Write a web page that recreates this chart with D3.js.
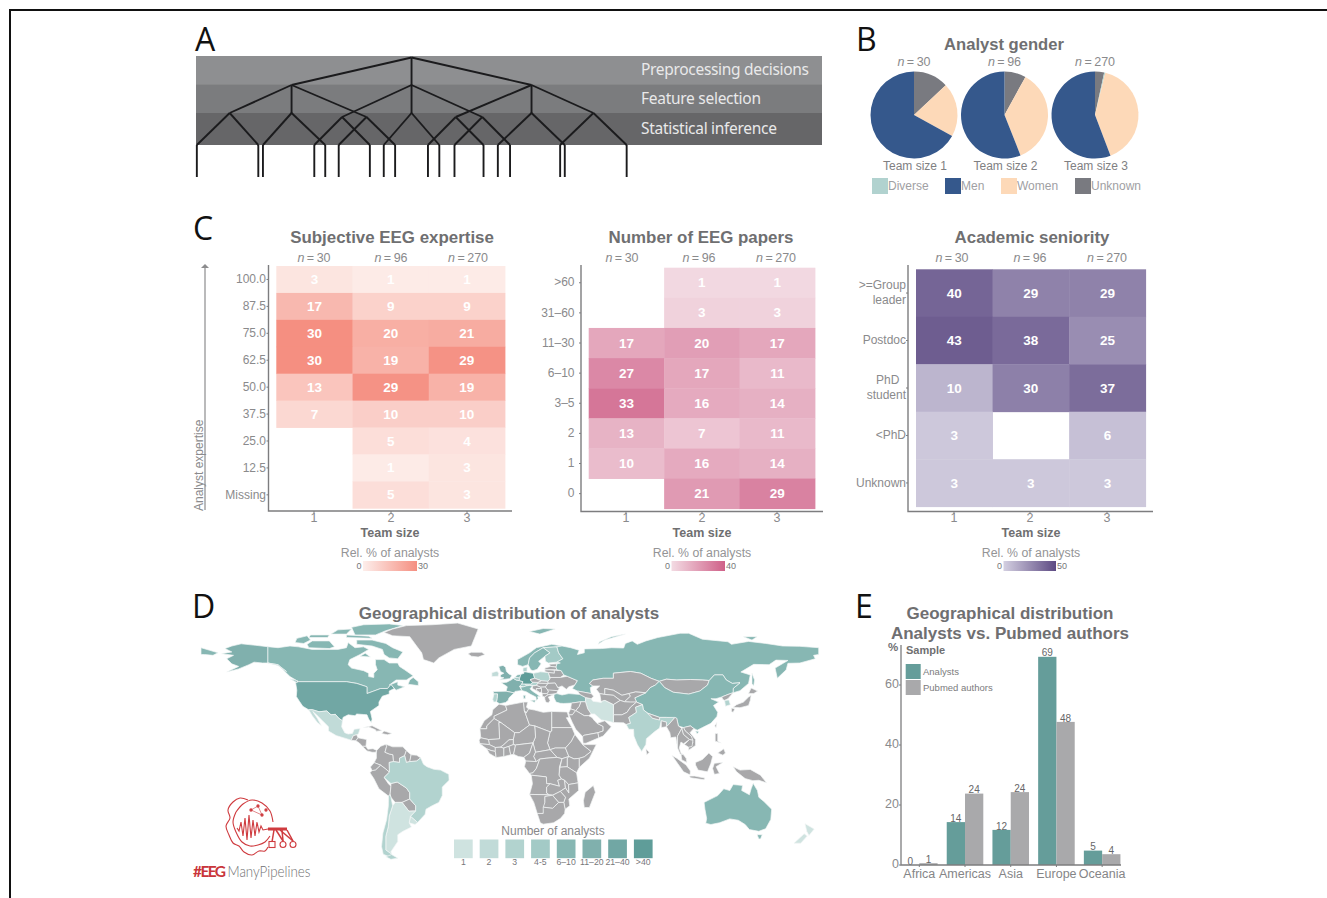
<!DOCTYPE html>
<html><head><meta charset="utf-8">
<script src="https://cdn.jsdelivr.net/npm/d3@7"></script>
<style>html,body{margin:0;padding:0;background:#fff}svg{display:block}
text{font-family:"Liberation Sans",Arial,sans-serif}</style></head>
<body><svg id="c" width="1327" height="898"></svg>
<script>
// ---------- Panel A data ----------
const bandLabels=["Preprocessing decisions","Feature selection","Statistical inference"];
const bandColors=["#8e8f91","#7b7c7e","#666668"];
const bandEdges=[56,84.3,113,145];
const treeRoot=550;
const treeLevel1=[265,550,835];
const treeLevel2=[[118,0],[265,0],[443,0],[385,1],[550,1],[718,1],[655,2],[835,2],[982,2]];
const treeLeaves=[[40,186],[197,345],[377,511],[319,451],[484,616],[652,784],[589,721],[755,914],[903,1061]];
// ---------- Panel B data ----------
const genderCats=["Diverse","Men","Women","Unknown"];
const genderColors=["#b1d2cf","#35588c","#fdd9b8","#797a80"];
const genderN=["30","96","270"];
const genderTeam1=[0,67,20,13];
const genderTeam2=[0,56,36,8];
const genderTeam3=[0.4,55.8,40.4,3.4];
// ---------- Panel C data ----------
const teamSizes=[1,2,3];
const nLabels=["30","96","270"];
const expertiseRows=["100.0","87.5","75.0","62.5","50.0","37.5","25.0","12.5","Missing"];
const expertiseVals=[[3,1,1],[17,9,9],[30,20,21],[30,19,29],[13,29,19],[7,10,10],[null,5,4],[null,1,3],[null,5,3]];
const paperRows=[">60","31–60","11–30","6–10","3–5","2","1","0"];
const paperVals=[[null,1,1],[null,3,3],[17,20,17],[27,17,11],[33,16,14],[13,7,11],[10,16,14],[null,21,29]];
const seniorityRows=[[">=Group","leader"],["Postdoc"],["PhD\u00a0\u00a0","student"],["<PhD"],["Unknown"]];
const seniorityVals=[[40,29,29],[43,38,25],[10,30,37],[3,null,6],[3,3,3]];
// ---------- Panel D data ----------
const mapBins=["1","2","3","4-5","6–10","11–20","21–40",">40"];
const mapColors=["#a8a8aa","#cfe3e0","#c1dbd8","#b2d3cf","#a3cac6","#87b7b3","#80b0ad","#71a7a4","#5f9d99"];
// level index: 0 = no analysts, 1..8 = legend bins
const countries=[
[5,[[-141,69.6],[-135,69],[-128,70],[-123,69.5],[-115,68],[-108,68],[-100,68],[-95,69],[-94,72],[-90,69],[-85,69.5],[-82,68],[-87,65],[-93,62],[-94,59],[-92,57],[-85,55.5],[-82,54],[-82,52],[-79,51.5],[-79,54],[-77,56],[-78,59],[-78,62],[-73,62],[-70,60],[-65,60],[-64,58],[-61,56],[-56,52.5],[-60,50],[-66,50],[-70,47],[-65,49],[-65,47],[-61,46],[-66,44],[-67,45],[-69,47.3],[-71,45],[-75,45],[-79,43.5],[-83,42],[-83,46],[-89,48],[-95,49],[-123,49],[-128,52],[-131,55],[-135,59],[-141,60]]],
[5,[[-80,73.5],[-72,71.5],[-68,69],[-62,66.5],[-65,62.5],[-70,63],[-73,65],[-74,68],[-80,70],[-89,71],[-89,73.5]]],
[5,[[-117,69],[-105,68.5],[-102,69.5],[-105,73],[-115,73],[-118,71]]],
[5,[[-125,72],[-120,71.5],[-116,73.5],[-118,76],[-124,74.5]]],
[5,[[-90,76.5],[-78,76.5],[-72,79],[-62,82],[-70,83],[-85,82.5],[-92,81]]],
[5,[[-95,75],[-80,74.5],[-82,75.8],[-95,76.5]]],
[5,[[-117,75],[-106,75],[-105,76.5],[-116,76.5]]],
[5,[[-104,77],[-95,77],[-92,80],[-100,79.5]]],
[5,[[-87,64],[-81,63.5],[-84,65.8]]],
[5,[[-59,47.5],[-53,46.7],[-53,49],[-56,51.5],[-58,50]]],
[5,[[-128,50.7],[-124,48.5],[-123.5,49.5]]],
[7,[[-124.7,48.4],[-123,49],[-95,49],[-89,48],[-83,46],[-83,42],[-79,43.5],[-75,45],[-71,45],[-69,47.3],[-67,45],[-70,43.5],[-70,41.7],[-74,40.5],[-76,37],[-76,35],[-81,31.5],[-80,27],[-80.5,25],[-82,27],[-83,29.5],[-85,29.7],[-89,30],[-90,29],[-94,29.5],[-97,28],[-97.3,26],[-99.5,27.5],[-101.5,29.8],[-104,29.5],[-106.5,31.8],[-111,31.3],[-114.8,32.5],[-117.1,32.5],[-120.5,34.5],[-122.5,37.5],[-124.3,40.3],[-124,44]]],
[6,[[-141,69.6],[-148,70.4],[-156.5,71.3],[-162,70],[-166,68.5],[-162,66.5],[-168,65.5],[-161,64.5],[-165,62.5],[-162,59.5],[-158,58],[-165,54.7],[-158,56.5],[-152,59],[-149,60.5],[-144,60],[-141,60],[-135,58.5],[-130,55],[-135,59],[-141,60]]],
[0,[[-73,78],[-68,76],[-58,75.5],[-54,70],[-51,66],[-50,62],[-44,60],[-41,63],[-32,68],[-22,70],[-20,75],[-18,80],[-30,83.5],[-45,82.5],[-60,82],[-68,80]]],
[0,[[-24,65.5],[-22,64],[-18,63.5],[-14,65],[-16,66.3],[-22,66.3]]],
[2,[[-117.1,32.5],[-114.8,32.5],[-111,31.3],[-106.5,31.8],[-104,29.5],[-101.5,29.8],[-99.5,27.5],[-97.3,26],[-97.8,22.5],[-96,19],[-94,18.2],[-91.5,18.6],[-90.5,21],[-87,21.5],[-88,18.3],[-89,17.8],[-91,17.2],[-92.2,14.6],[-96,15.8],[-101,17.3],[-105.5,20],[-105.5,22.5],[-109,26],[-112.5,29.5],[-114.7,31.5],[-112,27.5],[-109.7,23.2],[-112,25],[-115,29]]],
[0,[[-92.2,14.6],[-91,17.2],[-89,17.8],[-88.3,16],[-89.5,14.2]]],
[0,[[-89.5,14.2],[-88.3,16],[-83.2,15],[-83.6,11],[-85.7,11],[-87.5,13]]],
[0,[[-85.7,11],[-83.6,11],[-82.5,9.3],[-79.5,9.6],[-77.3,8.6],[-78,7.5],[-80,7.5],[-83,8.3]]],
[0,[[-85,22],[-80,23.1],[-74.2,20.2],[-77.7,19.9],[-78,20.7],[-82,22.4]]],
[0,[[-74.4,18.5],[-73,20],[-68.4,18.6],[-71,17.8]]],
[0,[[-77.3,8.6],[-75,11],[-72,12.2],[-71.5,11],[-72.5,7.5],[-70,6.5],[-67.8,6],[-67.5,2],[-70,1.5],[-69.8,-4.2],[-72,-2.4],[-75,-0.1],[-78.8,1.4],[-77.5,4],[-77.5,7]]],
[0,[[-72,12.2],[-68,10.7],[-62,10.7],[-60,8.5],[-61,5.5],[-64,4],[-64,1.5],[-67.5,2],[-67.8,6],[-70,6.5],[-72.5,7.5],[-71.5,11]]],
[0,[[-60,8.5],[-57.2,6],[-58,2],[-60,1.5],[-61,5.5]]],
[0,[[-57.2,6],[-54,5.8],[-51.6,4.2],[-54,2.3],[-58,2]]],
[0,[[-80,-3.3],[-81,-1.2],[-78.8,1.4],[-75,-0.1],[-78,-3]]],
[0,[[-81.3,-4.5],[-80,-3.3],[-78,-3],[-75,-0.1],[-72,-2.4],[-69.9,-4.2],[-73,-7.3],[-70.5,-11],[-69,-12.5],[-69.5,-17.3],[-70.4,-18.3],[-76,-14],[-79,-8]]],
[0,[[-69,-10.9],[-65.3,-10],[-60,-13.5],[-58,-16.3],[-58,-20],[-62.5,-22],[-66.5,-22],[-69,-19],[-69.5,-17.3],[-69,-12.5]]],
[0,[[-58,-20],[-54.5,-24],[-54.6,-27],[-58.5,-27.2],[-62.5,-22]]],
[3,[[-69.9,-4.2],[-70,1.5],[-67.5,2],[-64,1.5],[-64,4],[-61,5.5],[-60,1.5],[-58,2],[-54,2.3],[-51.6,4.2],[-50,0.5],[-48,-1],[-44,-2.5],[-40,-3],[-35.2,-5.5],[-35,-9],[-39,-13],[-39,-18],[-41,-22],[-45,-24],[-48.5,-26],[-49,-29],[-53.4,-33.8],[-57.6,-30.2],[-54.6,-27],[-54.5,-24],[-58,-20],[-58,-16.3],[-60,-13.5],[-65.3,-10],[-69,-10.9],[-73,-7.3]]],
[1,[[-53.4,-33.8],[-54.9,-35],[-58.3,-34],[-57.6,-30.2]]],
[1,[[-66.5,-22],[-62.5,-22],[-58.5,-27.2],[-54.6,-27],[-57.6,-30.2],[-58.3,-34],[-57,-36.5],[-62,-39],[-65,-41],[-65,-45],[-69,-51],[-68.5,-52.5],[-72,-50],[-72,-42],[-70.5,-36],[-70,-30],[-68,-24]]],
[3,[[-70.4,-18.3],[-69.5,-17.3],[-69,-19],[-68,-24],[-70,-30],[-70.5,-36],[-72,-42],[-72,-50],[-68.5,-52.5],[-70,-54],[-73.5,-52.5],[-74.5,-48],[-73.7,-40],[-71.5,-32],[-70.5,-24]]],
[3,[[-68.6,-52.7],[-65,-54.8],[-69,-55.5],[-72,-54]]],
// Europe
[6,[[-5.5,50.1],[0.5,50.8],[1.7,52.7],[0,53.5],[-1.5,55],[-2,57.5],[-3.5,58.6],[-6,58],[-5,55],[-3,54],[-5,53],[-5,51.7],[-3,51.3]]],
[2,[[-10,52],[-6.3,52.2],[-6,54],[-7,55.2],[-10,54.3]]],
[6,[[-4.5,48.4],[-1.3,48.7],[1.5,50.2],[2.5,51],[4.2,50],[6,49.7],[8.2,49],[7.5,47.6],[6.2,46.3],[7.5,43.8],[3.5,43.3],[3,42.4],[-1.7,43.4],[-1,46]]],
[6,[[-9.2,43.2],[-1.7,43.4],[3,42.4],[0,39.5],[-0.5,38],[-2,36.8],[-5.5,36],[-7.3,37.2],[-7,39],[-6.7,41.8],[-8.8,41.8]]],
[3,[[-8.8,41.8],[-6.7,41.8],[-7,39],[-7.3,37.2],[-9,37],[-9.5,38.7]]],
[5,[[3.4,51.4],[4.8,53],[7,53.4],[6.2,51],[5,51.4]]],
[4,[[2.5,51],[3.4,51.4],[5,51.4],[6.2,51],[6,49.7],[4.2,50]]],
[8,[[6.2,51],[7,53.4],[8.7,53.9],[8.7,54.9],[10,54.7],[14.2,53.9],[15,51],[12.3,50.2],[13.8,48.7],[13,47.5],[7.5,47.6],[8.2,49],[6,49.7]]],
[3,[[8.2,55],[8.2,57],[10.6,57.7],[10.5,55]]],
[4,[[6.2,46.3],[7.5,47.6],[9.6,47.5],[10.4,46.6],[8.5,46]]],
[3,[[9.6,47.5],[13,47.5],[13.8,48.7],[17,48.6],[16,46.8],[12,46.8],[10.4,46.6]]],
[5,[[7.5,43.8],[6.8,45.8],[8.5,46],[10.4,46.6],[12,46.8],[13.7,46.5],[12.3,44.8],[13.6,43.5],[16,41.9],[18.4,40.1],[16.8,40.3],[17,39],[16,38],[15.7,40],[12.3,41.7],[10.3,43]]],
[5,[[12.5,38],[15.5,38.2],[15,36.7]]],
[5,[[8.3,41],[9.7,41],[9.5,39],[8.5,39]]],
[3,[[14.2,53.9],[18.5,54.8],[23,54.4],[24,50.7],[22.7,49.2],[19,49.5],[15,51]]],
[0,[[12.3,50.2],[15,51],[19,49.5],[17,48.6],[13.8,48.7]]],
[5,[[5,59],[5,62],[12,66],[16,69],[25,71],[31,70],[28,69.5],[20,69],[15,66],[12,63],[11.2,59],[8,58]]],
[5,[[11.2,59],[12,63],[15,66],[20,69],[24,66],[21,64],[17.3,61],[18.8,59.5],[16.5,56.3],[14,55.5],[12.7,56]]],
[4,[[20,69],[28,69.5],[29,66],[31.5,62.5],[28,60.5],[23,60],[21.3,61],[21,64],[24,66]]],
[0,[[23.5,59.3],[28,59.5],[27.5,57.6],[24.3,58]]],
[0,[[21,57],[24.3,58],[27.5,57.6],[28,56],[21,56]]],
[0,[[21,56],[26.5,55.8],[26.5,54],[23,54.4],[21,55]]],
[0,[[23,54.4],[26.5,54],[26.5,55.8],[30.5,55.5],[32,53],[30,51.5],[24,51.5]]],
[0,[[24,50.7],[24,51.5],[30,51.5],[34,52.2],[40,49.6],[38.5,47.1],[35,46],[33.5,44.5],[31,46.5],[28.5,45.5],[27,48.2],[22.7,48],[22.7,49.2]]],
[0,[[22.7,48],[27,48.2],[28.5,45.5],[29.5,45],[28.5,43.7],[23,43.8],[21.2,45.9]]],
[0,[[22.5,44.2],[28.5,43.7],[27.8,42],[23,41.4],[22,42],[23,43]]],
[0,[[16,46.8],[17,48.2],[22.7,48],[21.2,45.9],[18.5,45.8]]],
[0,[[17,48.6],[19,49.5],[22.7,49.2],[22.7,48],[17,48.2]]],
[0,[[13.7,46.5],[16,46.8],[18.5,45.8],[19,45],[16,45],[16,44],[18,42.6],[13.7,45]]],
[0,[[16,45],[19,45],[19,43],[18,42.6],[16,44]]],
[0,[[18.5,45.8],[21.2,45.9],[22.5,44.2],[23,43],[22,42],[19.4,42],[19,43],[19,45]]],
[0,[[19.4,42],[22,42],[23,41.4],[20.8,40],[19.5,40.5]]],
[0,[[20.8,40],[23,41.4],[26.3,41.5],[24,40.5],[23,40],[24,38],[23,36.5],[21.5,37],[21,38.5]]],
[5,[[26.3,41.5],[28,42],[31,41.2],[35,42],[41.5,41.5],[44.8,39.7],[44.7,37.2],[42,37.2],[36.5,36.4],[32,36.2],[30,36.3],[27.5,37],[26.3,39.5]]],
// Russia and Asia
[5,[[31,70],[36,69],[41,67.5],[40,65],[44,66],[44,68.3],[54,68.5],[60,69],[67,68.8],[68,71.5],[72,73],[75,71],[80,73],[87,75],[100,77.5],[105,77.5],[113,74],[128,72.5],[130,71],[140,72.7],[150,71.5],[160,70],[170,69.8],[181,69],[181,65],[178,64.5],[179,62.5],[170,60],[163,59.8],[162,56],[156.8,51],[155.5,57],[163,61.5],[156,61.7],[152,59],[143,59.2],[135.5,54.7],[141,53],[140,48],[135,43.7],[131,42.5],[131,45],[135,48.4],[130.5,48],[127,50],[125,53],[120,53],[117,49.7],[113,50],[106,50.3],[98,50],[92,50.5],[87.8,49.2],[83,51],[77,54],[71,55],[61,54],[61,51],[55,51],[49,50],[47,48],[49,46.5],[47.5,45.5],[48,42],[45,42.6],[40,43.5],[37,45],[38.5,47.1],[40,49.6],[34,52.2],[32,53],[30.5,55.5],[28,56],[27.5,57.6],[28,59.5],[30,60],[28,60.5],[31.5,62.5],[29,66],[28,69.5]]],
[5,[[-180,69],[-175,67.5],[-170,66],[-173,64.5],[-178,65],[-180,65]]],
[5,[[142,54],[143.5,50],[143,46.5],[142,48]]],
[5,[[52,71],[56,73.5],[68,77],[60,75.5],[53,72.5]]],
[5,[[137,75.5],[145,75.5],[142,73.5]]],
[5,[[12,78.5],[20,80.3],[27,80],[18,77]]],
[0,[[49,50],[55,51],[61,51],[61,54],[71,55],[77,54],[83,51],[87.8,49.2],[85.5,47],[82.5,45.5],[80,42.5],[74,43],[70,42],[66,41],[61,44],[56,45],[56,41.5],[53,42],[51,44.5],[53,46.5],[49,46.5],[47,48]]],
[0,[[87.8,49.2],[92,50.5],[98,50],[106,50.3],[113,50],[117,49.7],[116,47],[111.5,43.5],[105,41.7],[96,42.8],[91,45.5]]],
[5,[[73.5,39.5],[80,42.5],[82.5,45.5],[85.5,47],[87.8,49.2],[91,45.5],[96,42.8],[105,41.7],[111.5,43.5],[116,47],[117,49.7],[120,53],[125,53],[127,50],[130.5,48],[135,48.4],[131,45],[131,42.5],[128,41.5],[124.3,40],[121,39],[118,39],[122.5,37],[119.5,35],[122,31],[121.5,28.5],[118,24.5],[113,22],[110,20.5],[108,21.5],[106,23],[102,22],[99,23],[98,27.5],[92,28],[88,28],[81,30.5],[78.5,32.5],[78,35.5],[74.5,37]]],
[5,[[109,20],[111,19.7],[110,18.2]]],
[0,[[120.2,23],[121.5,25],[121,22]]],
[0,[[124.3,40],[128,41.5],[131,42.5],[128,39],[126,38],[125,38.5]]],
[3,[[126,38],[128.5,38.3],[129.4,35.5],[126.5,34.5]]],
[0,[[131,34],[135,33.7],[140,35],[141,38],[141.5,41],[140,40],[137,37],[133,35.5]]],
[0,[[140,42],[141.5,45.3],[145.3,43.5],[143,42]]],
[0,[[130,33.5],[132,33],[131,31],[130,31.5]]],
[0,[[56,45],[61,44],[66,41],[70,42],[71,40.5],[67.5,37.2],[65,38],[61,41],[56,41.5]]],
[0,[[53,42],[56,41.5],[61,41],[65,38],[61,35.5],[56,38],[53.8,37.3]]],
[0,[[70,42],[74,43],[80,42.5],[73.5,39.5],[74.5,37],[71,37],[67.5,37.2],[71,40.5]]],
[0,[[61,35.5],[65,38],[67.5,37.2],[71,37],[74.5,37],[71,34],[69,31],[66,29.5],[61,29.5]]],
[0,[[61,29.5],[61,25],[67,24.8],[68.5,23.8],[71,24.5],[70,28],[74.5,31],[74,34],[78,35.5],[74.5,37],[71,34],[69,31],[66,29.5]]],
[1,[[44.8,39.7],[48,39],[49,37.5],[54,36.8],[53.8,37.3],[56,38],[61,35.5],[61,29.5],[61,25],[57,26],[54,26.5],[50,30],[48,30],[46,33],[44.7,37.2]]],
[0,[[42,37.2],[44.7,37.2],[46,33],[48,30],[46.5,29],[44,29],[39,32],[41,34.5]]],
[0,[[36.5,36.4],[42,37.2],[41,34.5],[39,32],[36,33]]],
[0,[[35,31],[36,33],[39,32],[37,29.5],[35,29.5]]],
[0,[[35,29.5],[37,29.5],[39,32],[44,29],[46.5,29],[48.5,28],[50,26],[51.5,24.5],[55,22.7],[55,20],[52,19],[44,17.5],[43,16.8],[39,21],[37,25]]],
[0,[[43,16.8],[44,17.5],[52,19],[52.5,16],[45,12.8],[43.3,12.8]]],
[0,[[51.5,24.5],[56,26],[59.8,22.5],[55,17],[52.5,16],[52,19],[55,20],[55,22.7]]],
[0,[[40,43.5],[45,42.6],[48,42],[49.5,40.5],[48,39],[44.8,39.7],[41.5,41.5]]],
[3,[[68.5,23.8],[70,21],[72.8,21],[73,17],[75,12],[77.5,8],[80,12],[80.3,15.5],[85,19.5],[88,21.7],[89,26],[92,25.2],[92,22.5],[93.5,24],[97,28],[92,28],[88,28],[88,26.5],[84,27.5],[81,30.5],[78.5,32.5],[78,35.5],[74,34],[74.5,31],[70,28],[71,24.5]]],
[0,[[81,30.5],[84,27.5],[88,26.5],[88,28]]],
[0,[[89,26],[92,25.2],[92,22.5],[89,22]]],
[0,[[80,9.5],[82,7.5],[80.5,6]]],
[0,[[92,22.5],[93.5,24],[97,28],[98,27.5],[99,23],[101,21.5],[98.5,17],[98.5,10],[97.5,16.5],[94.5,16],[94,19]]],
[0,[[98.5,10],[98.5,17],[101,21.5],[102,18],[105.5,15],[102,12.5],[100.5,13.5],[99.5,10],[100.5,7],[102,6],[100,6.5]]],
[0,[[102,22],[106,23],[108,21.5],[105.8,19],[109,15],[109,11.5],[105,8.7],[105,10.5],[107.5,13],[106.5,17],[103,20]]],
[0,[[101,21.5],[102,22],[103,20],[106.5,17],[107.5,14.5],[105.5,15],[102,18]]],
[0,[[102.5,12],[105.5,15],[107.5,14.5],[107,11],[105,10.5]]],
[0,[[100.5,6.5],[102,6],[103.5,4],[104,1.5],[101,3]]],
[0,[[95.3,5.6],[98,4],[103.5,0],[106,-3.5],[105.8,-5.8],[102,-4],[98.5,1]]],
[0,[[105.5,-6.5],[108.5,-6.5],[114.5,-7.7],[114,-8.7],[106,-7.5]]],
[0,[[109,1.5],[113,3.2],[116.8,7],[119,5],[118,1],[116,-4],[110.5,-3],[109,0]]],
[0,[[120,1],[125,1.5],[121,-1],[123,-5],[120,-5.5],[119,-2]]],
[0,[[131,-1],[135,-3],[141,-2.6],[147,-6],[150.5,-10.5],[146,-9],[142.5,-9.2],[138,-8],[133,-4]]],
[0,[[120.5,18.5],[122,18.5],[122,14],[124,13],[120.5,14]]],
[0,[[122,7],[125.5,9.5],[126.5,7],[125,5.8]]],
[5,[[114,-22],[114.5,-26],[115.5,-31.5],[115,-34.3],[118,-35],[123,-34],[129,-31.7],[134,-32.5],[138,-35],[140.5,-38],[146,-39],[150,-37.5],[153,-32],[153.5,-26],[149,-21.5],[146,-19],[145.2,-15],[142.7,-10.8],[141.5,-14],[140.5,-17.5],[136,-15],[136.5,-12],[131,-11.5],[129,-15],[125.5,-14],[122,-18],[117,-20.5]]],
[5,[[145,-41],[148,-41],[147,-43.5],[146,-43.5]]],
[1,[[173,-34.5],[178.4,-37.7],[175.3,-41.5],[174,-39]]],
[1,[[172.5,-40.5],[174.3,-41.8],[170.5,-46],[166.5,-46]]],
// Africa
[0,[[-5.8,35.8],[-2,35],[-1.2,32.3],[-8.7,28.7],[-8.7,27.3],[-13,23],[-13,21.3],[-17,21.3],[-14.5,26],[-10,29.5],[-9.5,32.5]]],
[0,[[-2,35],[8.5,37],[9,32],[12,23.5],[6,19],[3.3,19],[-4.8,25],[-8.7,27.3],[-8.7,28.7],[-1.2,32.3]]],
[0,[[8.5,37],[11,37],[10.2,34],[11.5,33],[10,30.5],[9,32]]],
[0,[[11.5,33],[15,32.3],[20,31],[25,31.5],[25,20],[24,19.5],[15,23],[12,23.5],[9,32],[10,30.5]]],
[0,[[25,31.5],[34,31.2],[35,28],[33.5,27.8],[36.8,22],[25,22]]],
[0,[[25,22],[36.8,22],[38.5,18],[36.5,14],[33,10],[27,10],[24,9],[22.5,13],[24,19.5],[25,20]]],
[0,[[24,9],[27,10],[33,10],[35,5],[31,3.7],[28,4.5]]],
[0,[[15,23],[24,19.5],[22.5,13],[24,9],[15.5,7.5],[14,13],[15.5,16.5]]],
[0,[[12,23.5],[15,23],[15.5,16.5],[14,13],[4,11.8],[2.5,12],[2.5,15],[3.3,19],[6,19]]],
[0,[[-12,15],[-5.5,15.5],[-6,25],[-4.8,25],[3.3,19],[2.5,15],[0,14.8],[-3,12],[-5,10.5],[-8,10.3],[-11.5,12]]],
[0,[[-17,21.3],[-13,21.3],[-13,23],[-8.7,27.3],[-4.8,25],[-6,25],[-5.5,15.5],[-12,15],[-16.5,16]]],
[0,[[-16.5,16],[-12,15],[-11.5,12],[-17,12.5],[-17.5,14.7]]],
[0,[[-17,12.5],[-11.5,12],[-8,10.3],[-8,8],[-10.5,8.5],[-13,9.5],[-15,11]]],
[0,[[-13,9.5],[-10.5,8.5],[-8,8],[-7.5,4.4],[-11.5,6.8]]],
[0,[[-8,10.3],[-5,10.5],[-3,10],[-3,5],[-7.5,4.4],[-8,8]]],
[0,[[-3,12],[0,14.8],[2.5,15],[2.5,12],[0,11],[-3,10],[-5,10.5]]],
[0,[[-3,10],[0,11],[1,6],[-3,5]]],
[0,[[0,11],[2.5,12],[3.8,11.5],[2.7,6.3],[1,6]]],
[0,[[2.7,6.3],[3.8,11.5],[4,11.8],[14,13],[12,7],[8.7,4.5],[5.5,5]]],
[0,[[8.7,4.5],[12,7],[14,13],[15.5,7.5],[14.5,5],[16,2],[9.8,2.3]]],
[0,[[14.5,5],[15.5,7.5],[24,9],[28,4.5],[22,4],[18,3.5],[16,2]]],
[0,[[9.8,2.3],[16,2],[18,3.5],[16,-2],[14,-4.6],[12,-5],[9,-1]]],
[0,[[18,3.5],[22,4],[28,4.5],[31,3.7],[29.5,-1],[29.3,-6],[30.7,-8.2],[28.5,-9],[29.5,-12.5],[24,-11],[22,-11],[21.8,-7],[13,-6],[12,-5],[14,-4.6],[16,-2]]],
[0,[[36.5,14],[38.5,18],[43,12],[48,8],[44,4.8],[41,3.9],[38,3.6],[35,5],[33,10]]],
[0,[[43,12],[51,12],[47,4],[41,-1.5],[41,3.9],[44,4.8],[48,8]]],
[0,[[35,5],[38,3.6],[41,3.9],[41,-1.5],[39.5,-4.6],[34,-1],[34,4]]],
[0,[[31,3.7],[35,5],[34,4],[34,-1],[29.8,-1.3]]],
[0,[[29.8,-1.3],[34,-1],[39.5,-4.6],[40.4,-10.5],[34.8,-11.5],[32.5,-9],[30.7,-8.2],[29.3,-6]]],
[0,[[13,-6],[21.8,-7],[22,-11],[24,-11],[22,-13],[22,-16.5],[23.5,-17.5],[12,-17.3],[13.7,-11]]],
[0,[[22,-13],[24,-11],[29.5,-12.5],[28.5,-9],[30.7,-8.2],[32.5,-9],[33,-13.5],[30,-15.5],[25.5,-17.8],[23.5,-17.5],[22,-16.5]]],
[0,[[32.5,-9],[34.8,-11.5],[35,-16.5],[33,-13.5]]],
[0,[[34.8,-11.5],[40.4,-10.5],[40.7,-15],[35,-20],[35.5,-24],[32.8,-26],[32,-22],[33,-19],[30,-15.5],[33,-13.5],[35,-16.5]]],
[0,[[25.5,-17.8],[30,-15.5],[33,-19],[32,-22],[29,-22],[26,-18.5]]],
[0,[[12,-17.3],[23.5,-17.5],[25.5,-17.8],[21,-18.5],[21,-22],[20,-28.5],[16.5,-28.5],[14.5,-22]]],
[0,[[21,-18.5],[25.5,-17.8],[26,-18.5],[29,-22],[25.5,-25.5],[20,-24.8],[21,-22]]],
[0,[[16.5,-28.5],[20,-28.5],[20,-24.8],[25.5,-25.5],[29,-22],[32,-22],[32.8,-26],[32.5,-28.5],[30,-31.5],[26,-34],[20,-34.8],[18.3,-34],[17,-30]]],
[0,[[49.3,-12],[50.5,-16],[47,-25],[44,-25],[43.5,-21],[44.5,-16]]]
];
// ---------- Panel E data ----------
const regions=["Africa","Americas","Asia","Europe","Oceania"];
const analystsPct=[0,14.3,11.7,69.4,4.8];
const pubmedPct=[0.6,23.8,24.3,47.7,3.6];
const analystsLabels=["0","14","12","69","5"];
const pubmedLabels=["1","24","24","48","4"];

const svg=d3.select("#c");
const INK="#6f6f71", SOFT="#8a8a8c", AXIS="#7d7d7f";
function T(g,x,y,s,o={}){const t=g.append("text").attr("x",x).attr("y",y+1).text(s)
 .attr("font-size",o.size||12).attr("fill",o.fill||SOFT).attr("text-anchor",o.anchor||"middle")
 .attr("dominant-baseline","middle").attr("font-weight",o.weight||"normal");
 if(o.family)t.style("font-family",o.family); return t;}
function nLab(g,x,y,n){const t=g.append("text").attr("x",x).attr("y",y+1).attr("text-anchor","middle")
 .attr("dominant-baseline","middle").attr("font-size",12.5).attr("fill",SOFT);
 t.append("tspan").attr("font-style","italic").text("n");t.append("tspan").text("\u2009=\u2009"+n);}

// frame
svg.append("path").attr("d","M10,898V10H1327").attr("fill","none").attr("stroke","#111").attr("stroke-width",2);
// panel letters
[["A",195,41],["B",856,41],["C",193,230],["D",192,608],["E",855,608]].forEach(d=>
 T(svg,d[1],d[2],d[0],{anchor:"start",size:32,fill:"#111",family:"'Open Sans',sans-serif"}));

// Panel A
const A=svg.append("g");
const ax=d3.scaleLinear().domain([38,1525]).range([196,822]);
bandLabels.forEach((s,i)=>{
 A.append("rect").attr("x",ax(38)).attr("width",ax(1525)-ax(38)).attr("y",bandEdges[i]).attr("height",bandEdges[i+1]-bandEdges[i]+(i<2?.5:0)).attr("fill",bandColors[i]);
 T(A,641,(bandEdges[i]+bandEdges[i+1])/2,s,{anchor:"start",size:15.5,fill:"#e9e9ea",family:"'Noto Sans',sans-serif"}).attr("textLength",[168,120,136][i]);
});
const yNode=[57.5,85,113,145,177];
const line=(x1,y1,x2,y2)=>A.append("line").attr("x1",ax(x1)).attr("y1",y1).attr("x2",ax(x2)).attr("y2",y2).attr("stroke","#1b1b1d").attr("stroke-width",1.9);
treeLevel1.forEach(x=>line(treeRoot,yNode[0],x,yNode[1]));
treeLevel2.forEach((d,i)=>{
 const y2=(d[0]===443||d[0]===385||d[0]===718||d[0]===655)?117:yNode[2];
 line(treeLevel1[d[1]],yNode[1],d[0],y2);
 treeLeaves[i].forEach(l=>{line(d[0],y2,l,yNode[3]);line(l,yNode[3],l,yNode[4]);});
});

// Panel B
const B=svg.append("g");
T(B,1004,44.5,"Analyst gender",{size:16.6,weight:"bold",fill:INK});
const pie=d3.pie().sort(null).value(d=>d.v);
const arc=d3.arc().innerRadius(0).outerRadius(43.5);
const pieOrder=[3,0,2,1];
[genderTeam1,genderTeam2,genderTeam3].forEach((vals,i)=>{
 const cx=914+i*90.5, cy=115;
 const data=pieOrder.map(k=>({k,v:vals[k]}));
 B.selectAll(null).data(pie(data)).enter().append("path").attr("transform",`translate(${cx},${cy})`)
  .attr("d",arc).attr("fill",d=>genderColors[d.data.k]);
 nLab(B,cx,62,genderN[i]);
 T(B,cx+1,165.5,"Team size "+(i+1),{size:12,fill:"#808082"});
});
[872,945,1001,1075].forEach((x,i)=>{
 B.append("rect").attr("x",x).attr("y",178).attr("width",16).attr("height",16).attr("fill",genderColors[i]);
 T(B,x+16,185.5,genderCats[i],{anchor:"start",size:12,fill:"#a0a0a3"});
});

// Panel C heatmaps
function heat(o){
 const g=svg.append("g");
 const x=d3.scaleBand().domain(teamSizes).range(o.xr);
 const y=d3.scaleBand().domain(o.rows.map((_,i)=>i)).range(o.yr);
 const c=d3.scaleLinear().domain([0,o.max]).range(o.colors);
 o.vals.forEach((row,r)=>row.forEach((v,k)=>{
  if(v===null)return;
  g.append("rect").attr("x",x(teamSizes[k])).attr("y",y(r)).attr("width",x.bandwidth()+.4).attr("height",y.bandwidth()+.4).attr("fill",c(v));
  T(g,x(teamSizes[k])+x.bandwidth()/2,y(r)+y.bandwidth()/2,v,{size:13.5,weight:"bold",fill:"#fff"});
 }));
 T(g,o.cx,237.5,o.title,{size:16.9,weight:"bold",fill:INK});
 o.nx.forEach((v,i)=>nLab(g,v,257.5,nLabels[i]));
 g.append("path").attr("d",`M${o.ax},265V${o.ab}H${o.ae}`).attr("fill","none").attr("stroke",AXIS).attr("stroke-width",1.4);
 o.tx.forEach((v,i)=>{
  g.append("line").attr("x1",v).attr("x2",v).attr("y1",o.ab).attr("y2",o.ab+2.5).attr("stroke",AXIS);
  T(g,v,518,teamSizes[i],{size:12.5});
 });
 o.rows.forEach((s,r)=>{
  const yy=y(r)+y.bandwidth()/2;
  g.append("line").attr("x1",o.ax-2).attr("x2",o.ax).attr("y1",yy).attr("y2",yy).attr("stroke",AXIS);
  const lines=Array.isArray(s)?s:[s];
  lines.forEach((l,j)=>T(g,o.ax-o.gap,yy+(j-(lines.length-1)/2)*14.5-.5,l,{anchor:"end",size:12}));
 });
 T(g,o.lc,532.5,"Team size",{size:12.5,weight:"bold",fill:INK});
 T(g,o.lc,553,"Rel. % of analysts",{size:12.3,fill:"#949496"});
 const id="g"+o.id;
 const grad=svg.append("defs").append("linearGradient").attr("id",id);
 grad.append("stop").attr("offset",0).attr("stop-color",o.colors[0]);
 grad.append("stop").attr("offset",1).attr("stop-color",o.colors[1]);
 g.append("rect").attr("x",o.bar[0]).attr("y",561).attr("width",o.bar[1]-o.bar[0]).attr("height",10).attr("fill",`url(#${id})`);
 T(g,o.bar[0]-1.5,565.5,0,{anchor:"end",size:9,fill:"#77777a"});
 T(g,o.bar[1]+1,565.5,o.max,{anchor:"start",size:9,fill:"#77777a"});
}
heat({id:1,title:"Subjective EEG expertise",rows:expertiseRows,vals:expertiseVals,max:30,colors:["#fdeeeb","#f58f81"],gap:2.5,
 xr:[276.3,505],yr:[266,508.3],cx:392,nx:[314,391,468],ax:268.5,ab:511,ae:512,tx:[314,391,467],lc:390,bar:[363,417]});
heat({id:2,title:"Number of EEG papers",rows:paperRows,vals:paperVals,max:40,colors:["#f3dbe3","#cf6088"],gap:6.5,
 xr:[588.7,815],yr:[267.7,508.7],cx:701,nx:[622,699,776],ax:581,ab:511.5,ae:823,tx:[626,702,777],lc:702,bar:[671.5,725]});
heat({id:3,title:"Academic seniority",rows:seniorityRows,vals:seniorityVals,max:50,colors:["#d4d0e1","#5d4a83"],gap:2,
 xr:[916,1145.7],yr:[269.3,506.7],cx:1032,nx:[952,1030,1107],ax:908,ab:511.5,ae:1153,tx:[954,1030,1107],lc:1031,bar:[1003.5,1056]});
// expertise arrow
const ar=svg.append("g");
ar.append("line").attr("x1",205).attr("x2",205).attr("y1",510).attr("y2",268).attr("stroke","#8c8c8e").attr("stroke-width",1.2);
ar.append("path").attr("d",d3.line()([[201,268],[209,268],[205,264]])).attr("fill","#8c8c8e");
T(ar,0,0,"Analyst expertise",{size:12,anchor:"start"}).attr("transform","translate(199,511) rotate(-90)");

// Panel D
const D=svg.append("g");
T(D,509,613.5,"Geographical distribution of analysts",{size:17,weight:"bold",fill:INK});
const lon=d3.scaleLinear().domain([0,180]).range([509,817]);
const lat=d3.scaleLinear().domain([0,90]).range([765,612]);
const geo=d3.geoPath(d3.geoTransform({point(a,b){this.stream.point(lon(a),lat(b));}}));
D.selectAll(null).data(countries).enter().append("path")
 .attr("d",d=>geo({type:"LineString",coordinates:d[1].concat([d[1][0]])})+"Z")
 .attr("fill",d=>mapColors[d[0]]).attr("stroke","#f4f6f6").attr("stroke-width",.7).attr("stroke-linejoin","round");
T(D,553,830.5,"Number of analysts",{size:12,fill:"#88888a"});
mapBins.forEach((b,i)=>{
 const x=454+i*25.7;
 D.append("rect").attr("x",x).attr("y",839.5).attr("width",18.7).attr("height",18.7).attr("fill",mapColors[i+1]);
 T(D,x+9.3,862,b,{size:8.7,fill:"#77777a"});
});
// logo
const RED="#cf3b3f";
const L=svg.append("g").attr("fill","none").attr("stroke",RED).attr("stroke-width",1.1);
const lineC=d3.line().curve(d3.curveCatmullRom);
const logoOuter=[[248,800],[240,798],[233,802],[228,810],[230,818],[226,826],[229,835],[233,843],[239,846],[244,852],[252,855],[259,851],[265,851],[268,847]];
const logoDome=[[236,812],[243,804],[252,800],[262,803],[270,811],[273,822]];
const logoInner=[[236,812],[233,822],[236,832],[242,842],[250,846],[258,845],[265,842],[270,836]];
const logoWave=[[237,828],[239,831],[241,822],[243,836],[245,818],[247,840],[249,815],[251,838],[253,820],[255,836],[257,822],[259,832],[261,826],[263,830],[268,829]];
[logoOuter,logoDome,logoInner].forEach(p=>L.append("path").attr("d",lineC(p)));
L.append("path").attr("d",d3.line()(logoWave));
L.append("path").attr("d",d3.line()([[268,829],[287,829]])).attr("stroke-width",3);
[[[274,830],[272,842]],[[282,830],[283,841]],[[287,830],[293,841]],[[280,830],[293,841]],[[276,830],[283,841]]].forEach(p=>
 L.append("path").attr("d",d3.line()(p)).attr("stroke-width",1.5));
L.append("rect").attr("x",269).attr("y",841.5).attr("width",6).attr("height",6).attr("fill","#fff");
[283,293].forEach(x=>L.append("circle").attr("cx",x).attr("cy",844.5).attr("r",3).attr("fill","#fff"));
const logoDots=[[251,810],[258,806],[262,815],[266,810]];
logoDots.forEach(d=>L.append("circle").attr("cx",d[0]).attr("cy",d[1]).attr("r",1.1).attr("fill",RED));
L.append("path").attr("d",d3.line()([[251,810],[258,806],[262,815],[251,810]])).attr("stroke-width",.6);
T(svg,193,872.5,"#EEG",{anchor:"start",size:15.5,weight:"bold",fill:"#c9353a",family:"Lato,sans-serif"}).attr("textLength",33);
T(svg,227.5,872.5,"ManyPipelines",{anchor:"start",size:15.5,fill:"#6f6f72",family:"Lato,sans-serif"}).attr("font-weight",300).attr("textLength",83).attr("lengthAdjust","spacingAndGlyphs");

// Panel E
const E=svg.append("g");
T(E,1010,613.5,"Geographical distribution",{size:17,weight:"bold",fill:INK});
T(E,1010,633.5,"Analysts vs. Pubmed authors",{size:17,weight:"bold",fill:INK});
const ex=d3.scaleBand().domain(regions).range([896.45,1125]).paddingInner(.2).paddingOuter(.1);
const ey=d3.scaleLinear().domain([0,60]).range([865,685]);
const TEAL="#659d9a",GRAY="#a9a9ab";
regions.forEach((r,i)=>{
 const w=ex.bandwidth()/2,x0=ex(r);
 E.append("rect").attr("x",x0).attr("y",ey(analystsPct[i])).attr("width",w).attr("height",ey(0)-ey(analystsPct[i])).attr("fill",TEAL);
 E.append("rect").attr("x",x0+w).attr("y",ey(pubmedPct[i])).attr("width",w).attr("height",ey(0)-ey(pubmedPct[i])).attr("fill",GRAY);
 T(E,x0+w/2,ey(analystsPct[i])-4,analystsLabels[i],{size:10,fill:"#666668"});
 T(E,x0+w*1.5,ey(pubmedPct[i])-4,pubmedLabels[i],{size:10,fill:"#666668"});
 T(E,x0+w,873.5,r,{size:12.5,fill:"#858587"});
 E.append("line").attr("x1",x0+w).attr("x2",x0+w).attr("y1",865).attr("y2",867).attr("stroke",AXIS);
});
E.append("path").attr("d",`M901,645V865H1121`).attr("fill","none").attr("stroke",AXIS).attr("stroke-width",1.3);
ey.ticks(3).forEach(t=>{
 E.append("line").attr("x1",899).attr("x2",901).attr("y1",ey(t)).attr("y2",ey(t)).attr("stroke",AXIS);
 T(E,899,ey(t)-1,t,{anchor:"end",size:12.5});
});
T(E,893,647,"%",{size:11.5,weight:"bold",fill:INK});
T(E,906,650,"Sample",{anchor:"start",size:11,weight:"bold",fill:INK});
[["Analysts",TEAL,664],["Pubmed authors",GRAY,680]].forEach(d=>{
 E.append("rect").attr("x",905.7).attr("y",d[2]).attr("width",15).attr("height",15).attr("fill",d[1]);
 T(E,923,d[2]+7,d[0],{anchor:"start",size:9.5,fill:"#7b7b7d"});
});
</script></body></html>
